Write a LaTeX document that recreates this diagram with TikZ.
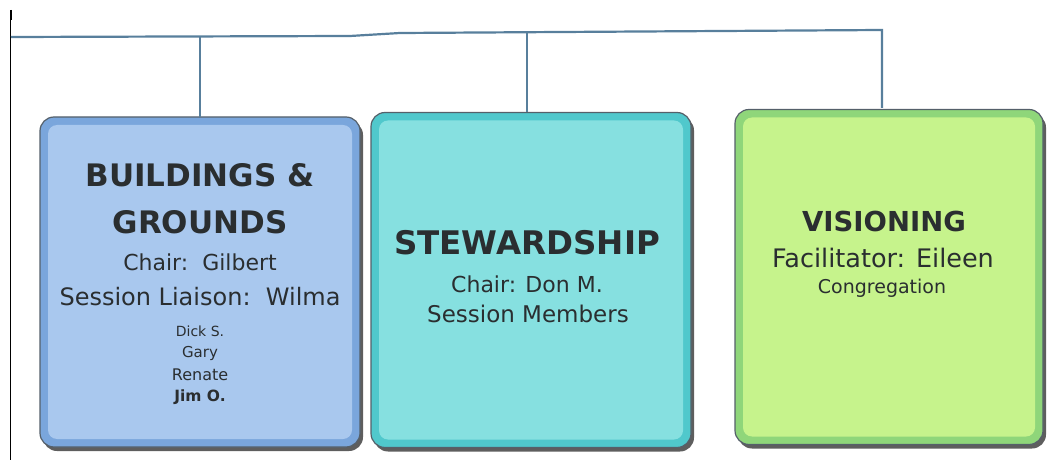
\documentclass[tikz,border=0pt]{standalone}
\usepackage{fontspec}
\setmainfont{DejaVu Sans}
\usetikzlibrary{shadows}
\definecolor{lineC}{HTML}{587F9C}
\definecolor{outl}{HTML}{55606A}
\definecolor{bAfill}{HTML}{A9C8EE}
\definecolor{bAbord}{HTML}{7AA6DC}
\definecolor{bBfill}{HTML}{86E0E0}
\definecolor{bBbord}{HTML}{50C8CC}
\definecolor{bCfill}{HTML}{C6F38C}
\definecolor{bCbord}{HTML}{8FD67A}
\definecolor{txt}{HTML}{2A2E30}
\tikzset{
  outerbox/.style={rectangle, rounded corners=14pt, draw=outl, line width=1.2pt,
    drop shadow={shadow xshift=3pt, shadow yshift=-4pt, fill=black!70, opacity=0.9}},
  innerbox/.style={rectangle, rounded corners=9pt},
  conn/.style={draw=lineC, line width=2.2pt},
  ttl/.style={text=txt, font=\bfseries\fontsize{#1}{#1}\selectfont, inner sep=0pt},
  sub/.style={text=txt, font=\fontsize{#1}{#1}\selectfont, inner sep=0pt},
}
\begin{document}
\begin{tikzpicture}[x=1pt,y=-1pt]
\useasboundingbox (0,0) rectangle (1049,470);
% left margin line
\draw[black, line width=0.8pt] (10,18) -- (10,460);
\draw[black, line width=2pt] (11,10) -- (11,20);
% boxes
\node[outerbox, fill=bAbord, minimum width=320pt, minimum height=330pt] (b1) at (200,282) {};
\node[innerbox, fill=bAfill, minimum width=304pt, minimum height=314pt] (b1i) at (b1) {};
\node[outerbox, fill=bBbord, minimum width=320pt, minimum height=335pt] (b2) at (531,280) {};
\node[innerbox, fill=bBfill, minimum width=304pt, minimum height=319pt] (b2i) at (b2) {};
\node[outerbox, fill=bCbord, minimum width=308pt, minimum height=335pt] (b3) at (889,277) {};
\node[innerbox, fill=bCfill, minimum width=292pt, minimum height=319pt] (b3i) at (b3) {};
% connectors
\coordinate (h0) at (11,37);
\coordinate (h1) at (350,36);
\coordinate (h2) at (400,33);
\coordinate (h3) at (882,30);
\coordinate (t1) at (200,36.5);
\coordinate (t2) at (527,32);
\draw[conn] (h0) -- (h1) -- (h2) -- (h3) -- (882,108);
\draw[conn] (t1) -- (200,117);
\draw[conn] (t2) -- (527,112);
% texts box 1
\node[ttl=31] (a1) at (200,175) {BUILDINGS \&};
\node[ttl=31] (a2) at (200,222) {GROUNDS};
\node[sub=22] (a3) at (200,262) {Chair:\ \ Gilbert};
\node[sub=24] (a4) at (200,297) {Session Liaison:\ \ Wilma};
\node[sub=14] (a5) at (200,331) {Dick S.};
\node[sub=15] (a6) at (200,353) {Gary};
\node[sub=16] (a7) at (200,375) {Renate};
\node[sub=15, font=\bfseries\fontsize{15.5}{15.5}\selectfont] (a8) at (200,397) {Jim O.};
% texts box 2
\node[ttl=32.5] (s1) at (527,243) {STEWARDSHIP};
\node[sub=22] (s2) at (527,284) {Chair: Don M.};
\node[sub=23] (s3) at (528,314) {Session Members};
% texts box 3
\node[ttl=27.5] (v1) at (884,221) {VISIONING};
\node[sub=25.5] (v2) at (883,258) {Facilitator: Eileen};
\node[sub=19] (v3) at (882,288) {Congregation};
\end{tikzpicture}
\end{document}
